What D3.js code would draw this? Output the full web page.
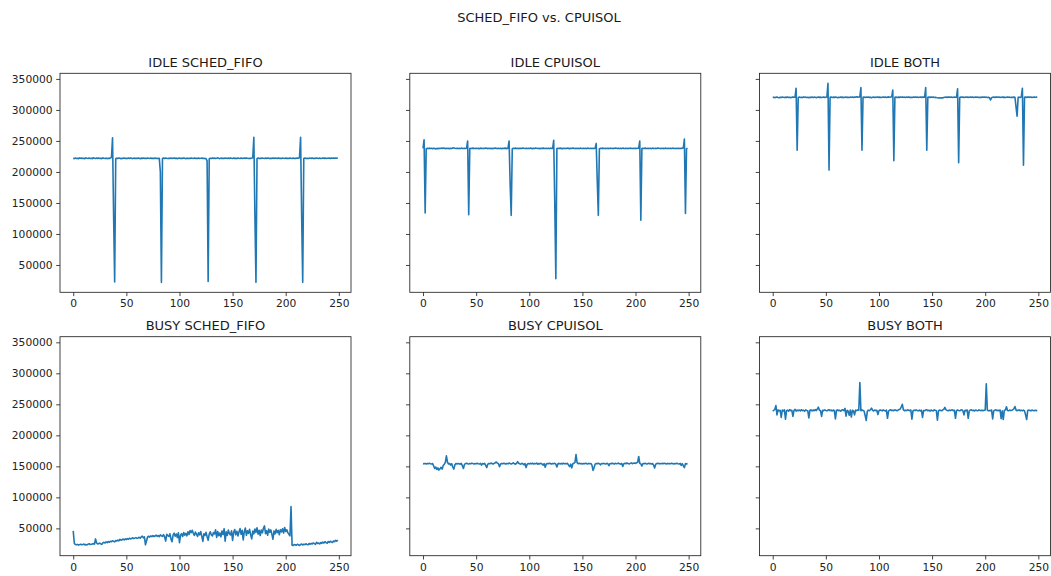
<!DOCTYPE html>
<html>
<head>
<meta charset="utf-8">
<script src="https://cdn.jsdelivr.net/npm/d3@7"></script>
<style>
  body { margin: 0; background: #fff; }
  text { font-family: "DejaVu Sans", sans-serif; }
</style>
</head>
<body>
<div id="viz"></div>
<script>
// figure text
const figureTitle = "SCHED_FIFO vs. CPUISOL";
const panelTitles = ["IDLE SCHED_FIFO", "IDLE CPUISOL", "IDLE BOTH", "BUSY SCHED_FIFO", "BUSY CPUISOL", "BUSY BOTH"];
const xTicks = [0, 50, 100, 150, 200, 250];
const yTicks = [50000, 100000, 150000, 200000, 250000, 300000, 350000];

// series, one value per run
const idleFifo = [
  222000, 221500, 222400, 221800, 222200, 221300, 222600, 221900, 222300, 221600, 222100, 221400, 222700, 222000, 221700, 222500, 221800, 222200, 221500, 222900, 222100, 221600, 222300, 221900, 222400,
  221700, 222200, 221400, 222600, 222000, 221800, 222300, 221500, 222100, 221900, 222400, 223500, 255000, 130000, 22500, 221500, 222300, 221800, 222600, 222000, 221400, 222200, 221900, 222500, 221700,
  222100, 221600, 222400, 221800, 222700, 222000, 221500, 222300, 221900, 222200, 221700, 222500, 222000, 221400, 222300, 221800, 222600, 221900, 222200, 221600, 222400, 222000, 221700, 222300, 221900,
  222200, 221500, 222400, 221800, 222100, 221600, 221900, 200000, 22000, 221600, 222300, 221800, 222500, 222000, 221700, 222200, 221900, 222400, 221600, 222100, 222600, 221800, 222300, 221500, 222000,
  222400, 221700, 222200, 221900, 222600, 222000, 221500, 222300, 221800, 222100, 221600, 222400, 222000, 221700, 222500, 221900, 222200, 221600, 222300, 221800, 222100, 222500, 221700, 222000, 221800,
  221500, 218000, 23500, 221300, 222200, 221800, 222500, 221900, 222300, 221600, 222100, 222700, 222000, 221500, 222300, 221900, 222200, 221700, 222400, 222000, 221600, 222300, 221800, 222600, 222100,
  221700, 222300, 221900, 222200, 221500, 222400, 222000, 221800, 222500, 221600, 222100, 222300, 221900, 222600, 222000, 221700, 222200, 221900, 222400, 223000, 256000, 130000, 22000, 221800, 222300,
  221600, 222200, 221900, 222500, 222000, 221700, 222300, 221800, 222600, 222100, 221500, 222200, 221900, 222400, 221700, 222300, 222000, 221600, 222500, 221900, 222200, 221800, 222400, 222000, 221700,
  222300, 221900, 222100, 221600, 222500, 222000, 221800, 222300, 221700, 222200, 221900, 222600, 222000, 223200, 256000, 130000, 22000, 221700, 222400, 221800, 222200, 221500, 222300, 222000, 221900,
  222400, 221700, 222200, 221900, 222500, 222000, 221600, 222300, 221800, 222100, 222600, 221900, 222300, 221700, 222200, 222000, 222500, 221800, 222300, 222100, 222600, 222000, 222400, 222200, 222700
];

const idleCpuisol = [
  238000, 252000, 134000, 237500, 238200, 237600, 238400, 237900, 238100, 237400, 238300, 237800, 237200, 238000, 237500, 238200, 237700, 238400, 237900, 238600, 238100, 237600, 238300, 237800, 238000,
  237500, 238200, 237900, 238500, 238800, 238100, 237700, 238300, 237900, 238100, 237600, 238400, 238000, 237700, 238200, 237900, 238300, 250000, 131000, 237600, 238200, 237900, 238400, 238000, 237700,
  238300, 237800, 238100, 237500, 238400, 238000, 237700, 238200, 237900, 238500, 238100, 237600, 238300, 237800, 238000, 237400, 238200, 237900, 238600, 238000, 237700, 238300, 237900, 238100, 237500,
  238200, 237800, 238400, 238000, 237600, 238300, 250000, 180000, 130000, 237500, 238100, 237800, 238400, 237900, 238200, 237600, 238300, 238000, 237700, 238500, 238100, 237800, 238300, 237900, 238200,
  237700, 238400, 238000, 237600, 238200, 237900, 238500, 238100, 237800, 238300, 237500, 238200, 237900, 238400, 238000, 237700, 238300, 237800, 238100, 237600, 238400, 238000, 237800, 251000, 150000,
  28000, 237600, 238200, 237900, 238400, 238000, 237500, 238300, 237800, 238100, 237700, 238400, 238000, 237600, 238200, 237900, 238500, 238000, 237700, 238300, 237900, 238100, 237600, 238400, 238000,
  237800, 238300, 237900, 238200, 237600, 238400, 238000, 237700, 238300, 237900, 238100, 237800, 238200, 246000, 185000, 130000, 237500, 238200, 237900, 238400, 238000, 237700, 238300, 237800, 238100,
  237600, 238400, 238000, 237800, 238200, 237900, 238500, 238100, 237700, 238300, 237900, 238200, 237600, 238400, 238000, 237800, 238300, 237900, 238100, 237700, 238400, 238000, 237800, 238200, 237900,
  238300, 237800, 238100, 238400, 250000, 122000, 237600, 238200, 237900, 238400, 238000, 237700, 238300, 237800, 238100, 237600, 238400, 238000, 237700, 238200, 237900, 238500, 238100, 237800, 238300,
  237900, 238200, 237600, 238400, 238000, 237800, 238300, 237900, 238100, 237700, 238400, 238000, 237800, 238200, 237900, 238300, 237700, 238100, 237900, 238400, 238600, 253000, 133000, 237500, 238200
];

const idleBoth = [
  320000, 320600, 319800, 320400, 320900, 320200, 319700, 320500, 320100, 320800, 320300, 319900, 320600, 320200, 320700, 320000, 320400, 319800, 320500, 321000, 320300, 320600, 335000, 235000, 320200,
  320700, 320100, 320500, 319900, 320800, 320300, 320600, 320000, 320400, 319700, 320500, 320200, 320800, 320100, 320600, 320300, 319800, 320500, 320900, 320200, 320600, 320000, 320400, 320700, 320200,
  320500, 321000, 343000, 203000, 320300, 320800, 320100, 320600, 320200, 320900, 320300, 319800, 320500, 320100, 320700, 320200, 320600, 319900, 320400, 320800, 320200, 320500, 320000, 320600, 320300,
  320700, 320200, 320900, 320400, 321100, 320600, 320800, 321000, 336000, 235000, 320400, 320800, 320100, 320600, 320300, 320900, 320200, 320500, 319800, 320400, 320700, 320100, 320600, 320300, 320800,
  320200, 320600, 320000, 320500, 320900, 320300, 320700, 320100, 320600, 321000, 320400, 320800, 321200, 332000, 218000, 320300, 320700, 320100, 320600, 320200, 320800, 320400, 320900, 320300, 320600,
  320100, 320700, 320300, 320800, 320200, 320500, 319900, 320600, 320300, 320900, 320400, 320700, 320100, 320500, 320800, 320200, 320600, 320900, 320500, 336000, 235000, 320400, 320800, 320200, 320600,
  320300, 320700, 320100, 320500, 320000, 319600, 319300, 319500, 319200, 319700, 319400, 319900, 320300, 320700, 320200, 320600, 320900, 320300, 320700, 320100, 320500, 320800, 320400, 320600, 334000,
  215000, 320200, 320700, 320300, 320800, 320100, 320600, 320400, 320900, 320200, 320500, 320800, 320300, 320700, 320000, 320500, 320900, 320300, 320600, 320100, 320500, 320200, 320700, 320400, 320800,
  320300, 320600, 320100, 320500, 319800, 316000, 319600, 320300, 320700, 320200, 320600, 320900, 320400, 320700, 320100, 320500, 320800, 320200, 320600, 320000, 320500, 320800, 320300, 320600, 320100,
  320500, 320200, 320600, 320400, 305000, 290000, 320300, 320600, 320100, 321000, 335000, 211000, 320300, 320800, 320200, 320600, 320900, 320300, 320700, 320100, 320500, 320800, 320400, 320600, 320900
];

const busyFifo = [
  46000, 26000, 24000, 23500, 24200, 23000, 23800, 24500, 23600, 24100, 24800, 23400, 24000, 23200, 24600, 25300, 23900, 24300, 24900, 25400, 24600, 33000, 26500, 24800, 25500,
  26200, 25000, 24300, 26800, 27500, 26400, 28200, 27100, 28800, 27600, 29300, 28400, 30100, 29000, 28300, 30500, 29600, 31200, 30000, 32400, 30800, 31500, 32900, 31300, 33100,
  32000, 33600, 32400, 34200, 33000, 33800, 34900, 33500, 34300, 35100, 33900, 34600, 35600, 34100, 36200, 37500, 34800, 36400, 23500, 30000, 36100, 37300, 36000, 37800, 36600,
  38200, 36900, 37600, 39000, 37200, 38500, 36800, 39400, 38100, 37000, 39800, 36400, 29500, 40500, 38200, 37000, 41200, 33000, 28500, 39600, 42300, 37500, 40800, 35200, 43000,
  27000, 38600, 41500, 36800, 43400, 39200, 41800, 38000, 44600, 40200, 46500, 43100, 47000, 42000, 38500, 44200, 40600, 36900, 42800, 39500, 44800, 37400, 29000, 41300, 38700,
  43600, 36500, 31000, 40800, 44500, 39300, 37800, 43200, 41000, 47800, 35500, 44900, 38200, 42600, 36400, 45800, 40100, 49500, 29500, 44300, 38800, 47200, 41600, 39400, 46000,
  30500, 43800, 48200, 39600, 45400, 37800, 44100, 49600, 40500, 46800, 31500, 44700, 50500, 38900, 46200, 42000, 48500, 39800, 33000, 45600, 41200, 49000, 43500, 51000, 40700,
  46900, 38500, 47400, 42800, 50200, 54000, 41500, 46300, 39000, 48800, 43600, 47600, 40400, 32500, 45900, 41100, 48400, 43000, 46700, 39800, 47900, 44200, 49300, 42500, 51500,
  45000, 47800, 43200, 40500, 38000, 85000, 23000, 22500, 24000, 23400, 22800, 24300, 23600, 22400, 23900, 24800, 23200, 24500, 23800, 25200, 24100, 23500, 25600, 24400, 25900,
  24900, 26500, 25300, 24200, 27600, 25800, 26300, 24800, 27200, 26000, 27800, 26400, 28500, 27000, 26100, 28800, 27500, 29200, 28000, 27300, 29600, 28600, 30800, 29400, 31000
];

const busyCpuisol = [
  154500, 154000, 154800, 153900, 154600, 154200, 154900, 154300, 153800, 154500, 150500, 146500, 149000, 145000, 147500, 144000, 146000, 148500, 145500, 151500, 153500, 156500, 167000, 157000, 153800,
  154500, 152000, 154200, 149000, 145500, 152500, 154600, 153900, 154700, 154100, 153500, 154800, 151000, 146500, 153200, 154500, 155000, 154200, 153800, 154600, 154100, 155200, 154400, 153600, 154700,
  154000, 155100, 154300, 153700, 154800, 152000, 154500, 153900, 154900, 151500, 148000, 153600, 154700, 154100, 155300, 154400, 153800, 154900, 155800, 157000, 155200, 154300, 149500, 153800, 154600,
  154200, 155000, 154400, 153600, 154800, 154000, 155300, 154600, 153900, 154700, 155600, 154200, 153500, 154900, 157500, 155000, 154100, 153600, 154800, 154300, 152500, 154500, 148000, 153300, 154600,
  154000, 154800, 154300, 155000, 153700, 154500, 154100, 155200, 153400, 154600, 154000, 154900, 153800, 152000, 154300, 148500, 153800, 154700, 154100, 155000, 154400, 153800, 154600, 154200, 155000,
  153500, 149000, 154200, 154800, 154000, 154600, 153800, 155100, 154300, 154700, 154000, 154900, 152000, 149500, 153600, 147500, 154200, 155000, 156500, 169000, 156000, 154300, 154900, 154100, 154600,
  153900, 154700, 154200, 155000, 154400, 153700, 154800, 154100, 154600, 152000, 143500, 148000, 153500, 154700, 154100, 155000, 154300, 152500, 154600, 154100, 154800, 154300, 153700, 154900, 154200,
  151000, 154600, 154100, 155000, 154400, 153800, 154900, 154300, 154700, 155200, 154100, 153600, 154800, 150000, 154300, 154900, 154200, 155400, 154600, 153900, 154800, 155600, 154300, 154900, 155300,
  154700, 155800, 156500, 166000, 155000, 154000, 150500, 154700, 154200, 155000, 154300, 153800, 154900, 154400, 154700, 153900, 154600, 152000, 147500, 153500, 154400, 154900, 154200, 154700, 154100,
  154800, 154300, 155000, 154500, 153900, 154800, 154200, 154600, 154100, 154900, 154400, 153700, 154600, 154200, 154900, 154300, 153800, 154700, 151500, 154300, 151000, 148000, 154400, 153800, 154600
];

const busyBoth = [
  239000, 240500, 242000, 248000, 233000, 241000, 239500, 240200, 229000, 240800, 239300, 241200, 226000, 239800, 240600, 238900, 241500, 239700, 240300, 230500, 240100, 241800, 239200, 240700, 239600,
  240900, 239400, 241300, 239900, 240500, 238800, 241100, 240200, 239600, 228000, 240400, 241000, 239300, 240800, 239700, 241400, 240000, 242500, 245500, 240300, 239600, 230500, 240500, 239800, 241100,
  240200, 239500, 240800, 241300, 239900, 240600, 239200, 240900, 239700, 226500, 240300, 241000, 239600, 240400, 239100, 240700, 241200, 239800, 243500, 231000, 240300, 239000, 232500, 240800, 229500,
  240500, 239300, 233000, 240600, 239900, 241200, 240400, 285000, 239600, 241000, 240200, 239100, 232000, 224000, 238500, 240700, 239800, 241300, 244000, 240500, 239200, 240900, 239800, 240400, 233500,
  239800, 240900, 240300, 239500, 241000, 240100, 239400, 240700, 227500, 239200, 240600, 241300, 239900, 240400, 239700, 241000, 240300, 239600, 240800, 241500, 242500, 246000, 250000, 241000, 239700,
  240500, 239900, 241200, 240300, 239600, 240900, 226000, 239400, 240700, 239800, 241100, 240200, 239500, 240800, 239300, 240400, 229000, 240100, 239600, 240900, 241300, 239800, 240500, 239200, 240700,
  240000, 239400, 241000, 240300, 239700, 224500, 239300, 240800, 240200, 239600, 241100, 242000, 245000, 241500, 240300, 239500, 240800, 239900, 240600, 241200, 239700, 240400, 227500, 239800, 240900,
  240200, 239600, 240800, 241300, 239400, 233000, 240500, 239800, 240900, 227500, 239500, 240700, 241200, 239900, 240400, 239300, 240800, 240100, 239600, 241000, 240300, 239700, 240600, 239800, 240400,
  241000, 283000, 240600, 239500, 240200, 239700, 240800, 226500, 239400, 240600, 241100, 239800, 240300, 239600, 240900, 227000, 239500, 225500, 240400, 241000, 246000, 240200, 239600, 240800, 239900,
  240500, 241200, 243000, 246500, 240800, 239700, 240400, 241000, 239600, 240300, 239800, 240600, 239400, 233000, 225500, 239900, 240700, 240200, 239500, 240800, 240100, 239700, 240400, 239900, 240200
];

const panelSeries = [idleFifo, idleCpuisol, idleBoth, busyFifo, busyCpuisol, busyBoth];

const svgWidth = 1051;
const svgHeight = 576;
const panelWidth = 291;
const panelHeight = 219;
const colLeft = [60, 409.8, 759.5];
const rowTop = [73.3, 336.7];
const tickLen = 3.8;

const svg = d3.select("#viz").append("svg")
    .attr("width", svgWidth)
    .attr("height", svgHeight);

// shared axes, 5% margins like matplotlib
const n = idleFifo.length;
const xPad = (n - 1) * 0.05;
const x = d3.scaleLinear()
    .domain([-xPad, n - 1 + xPad])
    .range([0, panelWidth]);

const allValues = panelSeries.flat();
const yMin = d3.min(allValues);
const yMax = d3.max(allValues);
const yPad = (yMax - yMin) * 0.05;
const y = d3.scaleLinear()
    .domain([yMin - yPad, yMax + yPad])
    .range([panelHeight, 0]);

const line = d3.line()
    .x((d, i) => x(i))
    .y(d => y(d));

svg.append("text")
    .attr("x", 539)
    .attr("y", 22)
    .attr("text-anchor", "middle")
    .attr("font-size", "13px")
    .attr("fill", "#1a1a1a")
    .text(figureTitle);

panelSeries.forEach((values, idx) => {
    const row = Math.floor(idx / 3);
    const col = idx % 3;

    const panel = svg.append("g")
        .attr("transform", `translate(${colLeft[col]}, ${rowTop[row]})`);

    const xAxis = panel.append("g")
        .attr("transform", `translate(0, ${panelHeight})`)
        .call(d3.axisBottom(x).tickValues(xTicks).tickSize(tickLen).tickPadding(3.6).tickSizeOuter(0));

    const yAxis = panel.append("g")
        .call(d3.axisLeft(y).tickValues(yTicks).tickSize(tickLen).tickPadding(3.6).tickSizeOuter(0)
            .tickFormat(col === 0 ? d3.format("d") : () => ""));

    [xAxis, yAxis].forEach(ax => {
        ax.select(".domain").remove();
        ax.selectAll(".tick line").attr("stroke", "#222").attr("stroke-width", 0.85);
        ax.selectAll(".tick text")
            .attr("fill", "#222")
            .attr("font-size", "10.7px")
            .attr("font-family", "DejaVu Sans, sans-serif");
    });

    panel.append("path")
        .datum(values)
        .attr("fill", "none")
        .attr("stroke", "#1f77b4")
        .attr("stroke-width", 1.6)
        .attr("stroke-linejoin", "round")
        .attr("d", line);

    // spines
    panel.append("rect")
        .attr("width", panelWidth)
        .attr("height", panelHeight)
        .attr("fill", "none")
        .attr("stroke", "#222")
        .attr("stroke-width", 0.85);

    panel.append("text")
        .attr("x", panelWidth / 2)
        .attr("y", -6.4)
        .attr("text-anchor", "middle")
        .attr("font-size", "13px")
        .attr("fill", "#1a1a1a")
        .text(panelTitles[idx]);
});
</script>
</body>
</html>
